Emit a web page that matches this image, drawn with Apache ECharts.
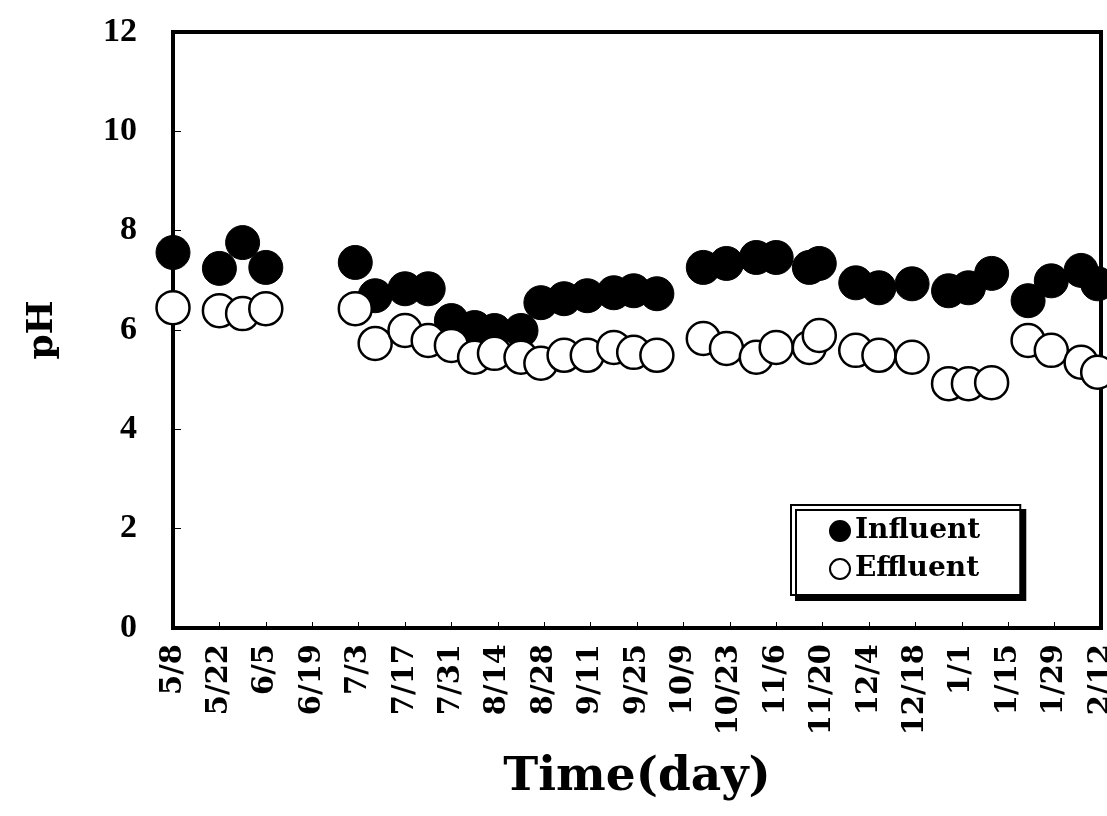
<!DOCTYPE html>
<html>
<head>
<meta charset="utf-8">
<script src="https://cdn.jsdelivr.net/npm/echarts@6/dist/echarts.min.js"></script>
<style>
html,body{margin:0;padding:0;background:#fff;}
#chart{width:1107px;height:816px;}
</style>
</head>
<body>
<div id="chart"></div>
<script>
// Tick labels (every 14 days starting 5/8)
const dateLabels = ['5/8','5/22','6/5','6/19','7/3','7/17','7/31','8/14','8/28','9/11','9/25','10/9','10/23','11/6','11/20','12/4','12/18','1/1','1/15','1/29','2/12'];
// Sampling days (days since 5/8)
const sampleDays = [0,14,21,28,55,61,70,77,84,91,97,105,111,118,125,133,139,146,160,167,176,182,192,195,206,213,223,234,240,247,258,265,274,279];
const influentPH = [7.56,7.24,7.76,7.26,7.36,6.69,6.83,6.83,6.19,6.05,5.99,5.99,6.55,6.63,6.69,6.75,6.79,6.73,7.26,7.34,7.46,7.46,7.26,7.34,6.95,6.85,6.93,6.79,6.85,7.14,6.59,6.99,7.20,6.93];
const effluentPH = [6.45,6.39,6.33,6.43,6.43,5.73,5.99,5.79,5.69,5.45,5.53,5.45,5.33,5.49,5.49,5.65,5.55,5.49,5.83,5.63,5.45,5.65,5.65,5.89,5.59,5.49,5.45,4.92,4.92,4.94,5.79,5.59,5.35,5.15];

const pair = (xs, ys) => xs.map((x, i) => [x, ys[i]]);
const serif = '"DejaVu Serif", "Liberation Serif", serif';

const chart = echarts.init(document.getElementById('chart'), null, {renderer: 'canvas'});
chart.setOption({
  animation: false,
  backgroundColor: '#fff',
  grid: {
    left: 173, right: 6, top: 32, bottom: 188,
    outerBoundsMode: 'none', containLabel: false,
    show: true, borderColor: '#000', borderWidth: 4, backgroundColor: 'transparent'
  },
  xAxis: {
    type: 'value', min: 0, max: 280, interval: 14,
    splitLine: {show: false},
    axisLine: {show: false},
    axisTick: {show: true, inside: true, length: 6, lineStyle: {color: '#000', width: 1}},
    axisLabel: {
      rotate: 90, margin: 16, color: '#000',
      fontFamily: serif, fontWeight: 'bold', fontSize: 29,
      formatter: v => dateLabels[Math.round(v / 14)] || ''
    },
    name: 'Time(day)', nameLocation: 'middle', nameGap: 126,
    nameTextStyle: {fontFamily: serif, fontWeight: 'bold', fontSize: 47, color: '#000'}
  },
  yAxis: {
    type: 'value', min: 0, max: 12, interval: 2,
    splitLine: {show: false},
    axisLine: {show: false},
    axisTick: {show: true, inside: true, length: 8, lineStyle: {color: '#000', width: 1}},
    axisLabel: {
      margin: 36, color: '#000',
      fontFamily: '"Liberation Serif", serif', fontWeight: 'bold', fontSize: 34
    },
    name: 'pH', nameLocation: 'middle', nameGap: 112, nameRotate: 90,
    nameTextStyle: {fontFamily: serif, fontWeight: 'bold', fontSize: 36, color: '#000'}
  },
  legend: {
    show: true, orient: 'vertical',
    left: 791, top: 505,
    padding: [12, 40, 12, 38],
    itemGap: 10, itemWidth: 20, itemHeight: 20,
    backgroundColor: '#fff', borderColor: '#000', borderWidth: 2,
    shadowColor: '#000', shadowBlur: 0, shadowOffsetX: 5, shadowOffsetY: 5,
    textStyle: {fontFamily: serif, fontWeight: 'bold', fontSize: 28, color: '#000'},
    data: [
      {name: 'Influent', icon: 'circle'},
      {name: 'Effluent', icon: 'circle'}
    ]
  },
  series: [
    {
      name: 'Influent', type: 'scatter', clip: false,
      symbol: 'circle', symbolSize: 34,
      itemStyle: {color: '#000', borderColor: '#000', borderWidth: 1, opacity: 1},
      data: pair(sampleDays, influentPH), z: 2
    },
    {
      name: 'Effluent', type: 'scatter', clip: false,
      symbol: 'circle', symbolSize: 33,
      itemStyle: {color: '#fff', borderColor: '#000', borderWidth: 2.5, opacity: 1},
      data: pair(sampleDays, effluentPH), z: 3
    }
  ]
});
</script>
</body>
</html>
